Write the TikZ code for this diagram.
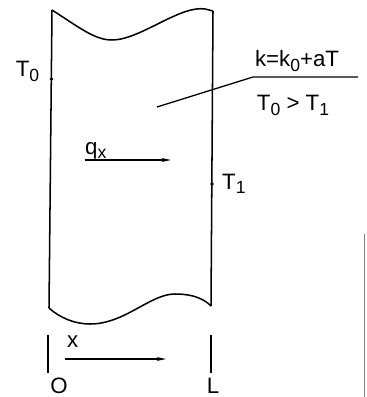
\documentclass[tikz,border=0pt]{standalone}
\usepackage{fontspec}
\setmainfont{Liberation Sans}
\usetikzlibrary{arrows.meta}
\newcommand{\lowsub}[1]{\raisebox{-.4ex}{\fontsize{15}{15}\selectfont #1}}

\begin{document}
\begin{tikzpicture}[x=0.03cm,y=-0.03cm,>={Stealth[length=8pt,width=3.4pt]},
  every node/.style={font=\fontsize{19}{22}\selectfont,inner sep=0pt},
  wall/.style={line width=1.3pt},
  tick/.style={line width=1.2pt}]
\useasboundingbox (0,0) rectangle (366,397);
% plate
\draw[wall] (52,10)--(49,308);
\draw[wall] (213,11)--(211,306);
\draw[wall] (52,10) .. controls (80,28) and (95,40) .. (112,40)
  .. controls (140,40) and (180,5) .. (205,9) -- (213,11);
\draw[wall] (49,308) .. controls (60,318) and (75,324) .. (90,324)
  .. controls (125,324) and (150,294) .. (175,294)
  .. controls (195,294) and (205,300) .. (211,306);
% surface temperatures
\fill (51.5,79) circle (1.8);
\node[anchor=base] (t0) at (27.5,77) {T\lowsub{0}};
\fill (212,184) circle (1.8);
\node[anchor=base west] (t1) at (222,189) {T\lowsub{1}};
% conductivity
\coordinate (lead) at (157,107);
\coordinate (bend) at (253,77);
\coordinate (lend) at (358,77);
\draw[line width=1.1pt] (lead)--(bend)--(lend);
\node[anchor=base] (kk) at (297,67) {k=k\lowsub{0}+aT};
\node[anchor=base] (ineq) at (293,111) {T\lowsub{0} > T\lowsub{1}};
% heat flux
\node[anchor=base west] (q) at (85,154) {q\lowsub{x}};
\coordinate (qa) at (85,160);
\coordinate (qb) at (171,160);
\draw[->,line width=1.1pt] (qa)--(qb);
% axis
\draw[tick] (48,335)--(48,373);
\draw[tick] (211,335)--(211,373);
\node[anchor=base west] (xl) at (67,347) {x};
\coordinate (xa) at (65,359);
\coordinate (xb) at (166,359);
\draw[->,line width=1.1pt] (xa)--(xb);
\node[anchor=base] (o) at (59,393.5) {O};
\node[anchor=base] (l) at (213,393.5) {L};
% scan edge
\draw[gray,line width=.6pt] (364.5,234)--(364.5,397);
\end{tikzpicture}
\end{document}
